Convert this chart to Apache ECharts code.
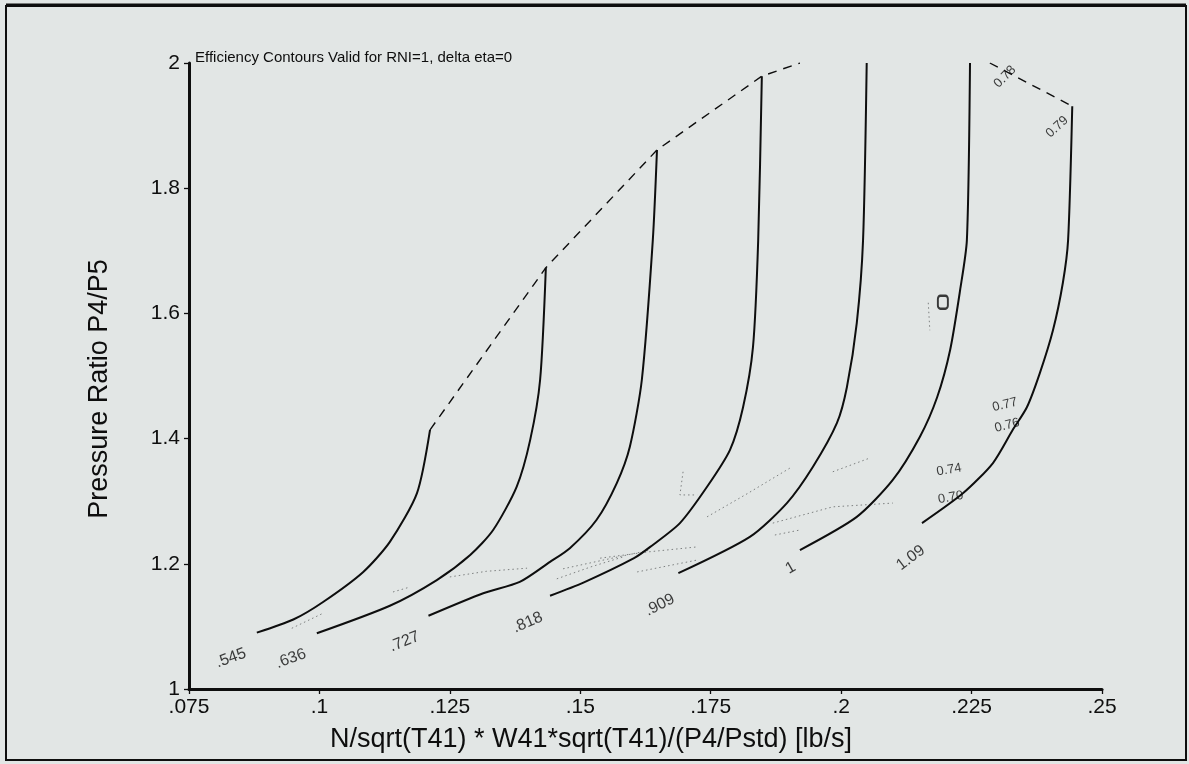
<!DOCTYPE html>
<html><head><meta charset="utf-8">
<script src="https://cdn.jsdelivr.net/npm/echarts@6/dist/echarts.min.js"></script>
<style>html,body{margin:0;padding:0;background:#e2e6e5;}#c{width:1189px;height:764px;}</style>
</head><body><div id="c"></div>
<script>
// ---- tick labels ----
const xTickLabels = ['.075', '.1', '.125', '.15', '.175', '.2', '.225', '.25'];
const yTickLabels = ['1', '1.2', '1.4', '1.6', '1.8', '2'];

// ---- speed lines (corrected speed) ----
const speedNames = ['.545', '.636', '.727', '.818', '.909', '1', '1.09'];
const speed545 = [[0.0880,1.090],[0.0950,1.111],[0.1007,1.139],[0.1084,1.187],[0.1135,1.235],[0.1187,1.313],[0.1212,1.414]];
const speed636 = [[0.0995,1.089],[0.1135,1.133],[0.1225,1.174],[0.1289,1.214],[0.1333,1.254],[0.1378,1.323],[0.1404,1.398],[0.1423,1.494],[0.1434,1.673]];
const speed727 = [[0.1209,1.117],[0.1314,1.153],[0.1384,1.171],[0.1442,1.203],[0.1480,1.225],[0.1531,1.270],[0.1570,1.329],[0.1595,1.387],[0.1618,1.494],[0.1639,1.717],[0.1647,1.861]];
const speed818 = [[0.1442,1.149],[0.1506,1.170],[0.1603,1.209],[0.1634,1.227],[0.1691,1.265],[0.1743,1.323],[0.1787,1.382],[0.1812,1.450],[0.1831,1.546],[0.1841,1.717],[0.1848,1.979]];
const speed909 = [[0.1688,1.185],[0.1825,1.243],[0.1896,1.297],[0.1946,1.355],[0.1992,1.425],[0.2011,1.482],[0.2030,1.585],[0.2042,1.717],[0.2049,2.000]];
const speed100 = [[0.1921,1.222],[0.2030,1.275],[0.2099,1.334],[0.2151,1.403],[0.2184,1.466],[0.2209,1.542],[0.2228,1.637],[0.2241,1.717],[0.2247,2.000]];
const speed109 = [[0.2155,1.265],[0.2234,1.313],[0.2291,1.361],[0.2329,1.414],[0.2356,1.450],[0.2381,1.505],[0.2406,1.573],[0.2425,1.649],[0.2435,1.717],[0.2443,1.931]];

// ---- surge line and upper-right dashed contour ----
const surgeLine = [[0.1212,1.414],[0.1434,1.673],[0.1647,1.861],[0.1848,1.979],[0.1921,2.000]];
const upperDashed = [[0.2285,2.000],[0.2443,1.931]];

// ---- efficiency contour labels ----
const effNames = ['0.78', '0.79', '0.77', '0.76', '0.74', '0.70'];
const effLabelAt = [[0.2314,1.978],[0.2414,1.898],[0.2314,1.454],[0.2318,1.421],[0.2207,1.350],[0.2210,1.306]];

// ---- faint dotted efficiency contour fragments ----
const effContours = [
  [[0.0947,1.097],[0.1007,1.121]],
  [[0.1141,1.155],[0.1174,1.163]],
  [[0.1250,1.179],[0.1320,1.188],[0.1398,1.193]],
  [[0.1455,1.176],[0.1520,1.195],[0.1582,1.211]],
  [[0.1467,1.192],[0.1550,1.207],[0.1634,1.222]],
  [[0.1538,1.209],[0.1630,1.219],[0.1724,1.227]],
  [[0.1609,1.187],[0.1724,1.206]],
  [[0.1743,1.275],[0.1820,1.312],[0.1902,1.353]],
  [[0.1697,1.347],[0.1691,1.310],[0.1724,1.310]],
  [[0.1869,1.265],[0.1984,1.291],[0.2099,1.297]],
  [[0.1873,1.246],[0.1921,1.254]],
  [[0.1984,1.347],[0.2055,1.369]],
  [[0.2167,1.617],[0.2170,1.573]]
];
const designPoint = [[0.2195,1.618]];

const speedLines = [speed545, speed636, speed727, speed818, speed909, speed100, speed109];
const speedLabelOffset = [[-33,15],[-33,15],[-32,15],[-31,16],[-31,20],[-17,11],[-30,21]];
const speedLabelRotate = [20, 20, 22, 23, 27, 30, 37];
const effLabelRotate = [45, 42, 14, 14, 10, 10];

const INK = '#0e0e0e';
const FONT = '"Liberation Sans", Arial, sans-serif';
const chart = echarts.init(document.getElementById('c'), null, {renderer: 'canvas'});
const series = [];
speedLines.forEach((d, i) => {
  series.push({type: 'line', data: d, smooth: 0.25, showSymbol: false, symbol: 'none',
    lineStyle: {color: INK, width: 2}, z: 5, silent: true});
});
effContours.forEach(d => {
  series.push({type: 'line', data: d, showSymbol: false, symbol: 'none',
    lineStyle: {color: '#7d8080', width: 1, type: [1.5, 3]}, z: 3, silent: true});
});
series.push({type: 'line', data: surgeLine, showSymbol: false, symbol: 'none',
  lineStyle: {color: INK, width: 1.4, type: [9, 7]}, z: 4, silent: true});
series.push({type: 'line', data: upperDashed, showSymbol: false, symbol: 'none',
  lineStyle: {color: INK, width: 1.4, type: [9, 7]}, z: 4, silent: true});
series.push({type: 'scatter', data: designPoint, symbol: 'roundRect', symbolSize: [10, 13],
  itemStyle: {color: 'rgba(0,0,0,0)', borderColor: INK, borderWidth: 2.2}, z: 6, silent: true});
series.push({type: 'scatter', symbolSize: 0, silent: true, z: 7,
  data: speedLines.map((d, i) => ({value: d[0], label: {offset: speedLabelOffset[i], rotate: speedLabelRotate[i]}})),
  label: {show: true, position: 'inside', align: 'center', verticalAlign: 'middle',
    fontFamily: FONT, fontSize: 16, color: INK,
    formatter: p => speedNames[p.dataIndex]}});
series.push({type: 'scatter', symbolSize: 0, silent: true, z: 7,
  data: effLabelAt.map((d, i) => ({value: d, label: {rotate: effLabelRotate[i]}})),
  label: {show: true, position: 'inside', align: 'center', verticalAlign: 'middle',
    fontFamily: FONT, fontSize: 13, color: INK,
    formatter: p => effNames[p.dataIndex]}});

const axisCommon = {
  axisLine: {show: true, lineStyle: {color: INK, width: 3}},
  axisTick: {show: true, inside: false, length: 5, lineStyle: {color: INK, width: 1.3}},
  splitLine: {show: false},
  axisLabel: {fontFamily: FONT, fontSize: 21, color: INK}
};
chart.setOption({
  animation: false,
  backgroundColor: '#e2e6e5',
  grid: {left: 189, right: 87, top: 63, bottom: 75},
  xAxis: Object.assign({}, axisCommon, {type: 'value', min: 0.075, max: 0.25, interval: 0.025,
    axisLabel: Object.assign({}, axisCommon.axisLabel, {margin: 8,
      formatter: v => xTickLabels[Math.round((v - 0.075) / 0.025)]})}),
  yAxis: Object.assign({}, axisCommon, {type: 'value', min: 1, max: 2, interval: 0.2,
    axisLabel: Object.assign({}, axisCommon.axisLabel, {margin: 9,
      formatter: v => yTickLabels[Math.round((v - 1) / 0.2)]})}),
  graphic: [
    {type: 'rect', shape: {x: 6, y: 6, width: 1180, height: 754}, style: {fill: null, stroke: INK, lineWidth: 2}, silent: true},
    {type: 'line', shape: {x1: 6, y1: 5, x2: 1186, y2: 5}, style: {stroke: INK, lineWidth: 3}, silent: true},
    {type: 'text', x: 195, y: 58, style: {text: 'Efficiency Contours Valid for RNI=1, delta eta=0',
      font: '15px ' + FONT, fill: INK, verticalAlign: 'middle'}},
    {type: 'text', x: 591, y: 740, style: {text: 'N/sqrt(T41) * W41*sqrt(T41)/(P4/Pstd) [lb/s]',
      font: '27px ' + FONT, fill: INK, align: 'center', verticalAlign: 'middle'}},
    {type: 'text', x: 100, y: 389, rotation: Math.PI / 2, style: {text: 'Pressure Ratio P4/P5',
      font: '27px ' + FONT, fill: INK, align: 'center', verticalAlign: 'middle'}}
  ],
  series: series
});
</script></body></html>
